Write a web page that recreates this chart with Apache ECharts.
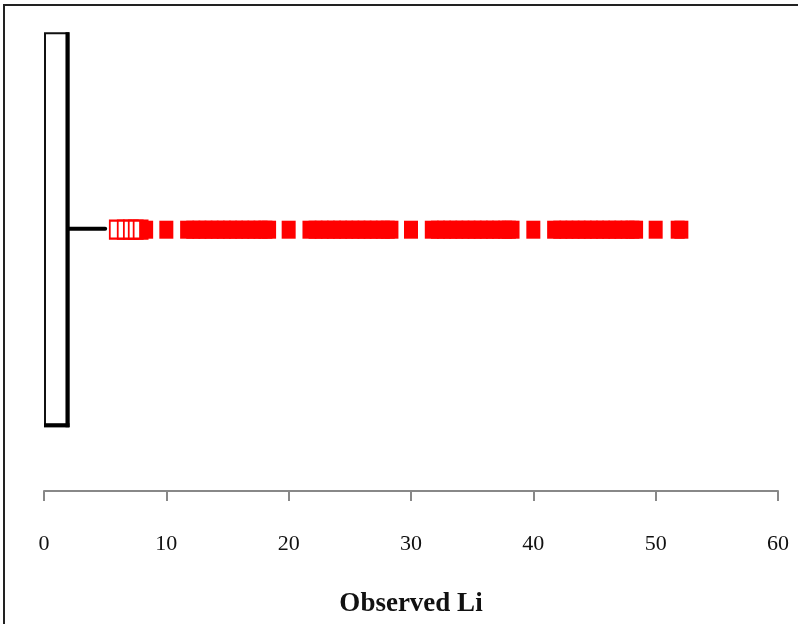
<!DOCTYPE html>
<html>
<head>
<meta charset="utf-8">
<script src="https://cdn.jsdelivr.net/npm/echarts@6/dist/echarts.min.js"></script>
<style>html,body{margin:0;padding:0;background:#fff}#c{width:798px;height:624px}</style>
</head>
<body>
<div id="c"></div>
<script>
// Box summary: [min, Q1, median, Q3, upper whisker, y-position]
const boxStats = [0, 0, 0, 2.0, 5.0, 0];
// Outliers drawn hollow (first ones) and solid
const hollowOutliers = [5.95, 6.6, 7.1, 7.5, 7.9];
const solidOutliers = [8.35, 10.0,
  11.7, 12.2, 12.7, 13.2, 13.7, 14.2, 14.7, 15.2, 15.7, 16.2, 16.7, 17.2, 17.7, 18.1, 18.4,
  20.0,
  21.7, 22.2, 22.7, 23.2, 23.7, 24.2, 24.7, 25.2, 25.7, 26.2, 26.7, 27.2, 27.7, 28.1, 28.4,
  30.0,
  31.7, 32.2, 32.7, 33.2, 33.7, 34.2, 34.7, 35.2, 35.7, 36.2, 36.7, 37.2, 37.7, 38.0, 38.3,
  40.0,
  41.7, 42.2, 42.7, 43.2, 43.7, 44.2, 44.7, 45.2, 45.7, 46.2, 46.7, 47.2, 47.7, 48.1, 48.4,
  50.0, 51.8, 52.1];
const xTicks = [0, 10, 20, 30, 40, 50, 60];
const xTitle = 'Observed Li';

const BOX_H = 395;
const chart = echarts.init(document.getElementById('c'));
chart.setOption({
  animation: false,
  backgroundColor: '#fff',
  graphic: [{
    type: 'rect', shape: {x: 4, y: 5, width: 820, height: 640},
    style: {fill: 'none', stroke: '#222', lineWidth: 2}, z: 10
  }],
  grid: {left: 44, right: 20, top: 5, bottom: 133},
  xAxis: {
    type: 'value', min: xTicks[0], max: xTicks[xTicks.length - 1], interval: 10,
    axisLine: {show: true, onZero: false, lineStyle: {color: '#888', width: 2}},
    axisTick: {show: true, inside: false, length: 10, lineStyle: {color: '#888', width: 2}},
    splitLine: {show: false},
    axisLabel: {margin: 42, color: '#111', fontFamily: 'Liberation Serif', fontSize: 22},
    name: xTitle, nameLocation: 'middle', nameGap: 100,
    nameTextStyle: {fontFamily: 'Liberation Serif', fontWeight: 'bold', fontSize: 27, color: '#111'}
  },
  yAxis: {type: 'value', min: -1, max: 0.86, show: false},
  series: [{
    type: 'custom',
    data: [boxStats],
    encode: {x: [0, 1, 2, 3, 4], y: 5},
    renderItem: function (params, api) {
      const y = api.value(5);
      const pQ1 = api.coord([api.value(1), y]);
      const pQ3 = api.coord([api.value(3), y]);
      const pMax = api.coord([api.value(4), y]);
      const top = pQ1[1] - BOX_H / 2, bot = pQ1[1] + BOX_H / 2;
      return {
        type: 'group',
        children: [
          {type: 'rect', shape: {x: pQ1[0] + 1, y: top + 1, width: pQ3[0] - pQ1[0] - 1, height: BOX_H - 2},
            style: {fill: '#fff', stroke: '#111', lineWidth: 2}},
          {type: 'line', shape: {x1: pQ3[0] - 1, y1: top, x2: pQ3[0] - 1, y2: bot},
            style: {stroke: '#000', lineWidth: 4}},
          {type: 'line', shape: {x1: pQ1[0], y1: bot - 2, x2: pQ3[0] + 1, y2: bot - 2},
            style: {stroke: '#000', lineWidth: 4}},
          {type: 'line', shape: {x1: pQ3[0], y1: pMax[1] - 1, x2: pMax[0], y2: pMax[1] - 1},
            style: {stroke: '#000', lineWidth: 4, lineCap: 'round'}}
        ]
      };
    }
  }, {
    type: 'scatter',
    data: hollowOutliers.map(v => [v, 0]),
    symbol: 'rect', symbolSize: [14, 18],
    itemStyle: {color: '#fff', borderColor: '#ff0000', borderWidth: 2, opacity: 1}
  }, {
    type: 'scatter',
    data: solidOutliers.map(v => [v, 0]),
    symbol: 'rect', symbolSize: [14, 18],
    itemStyle: {color: '#ff0000', opacity: 1}
  }]
});
</script>
</body>
</html>
